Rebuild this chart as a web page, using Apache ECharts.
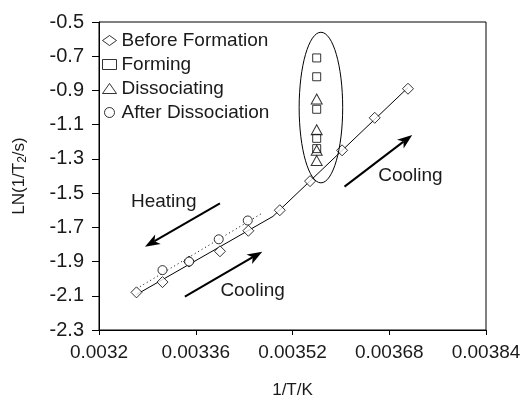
<!DOCTYPE html>
<html>
<head>
<meta charset="utf-8">
<script src="https://cdn.jsdelivr.net/npm/echarts@6/dist/echarts.min.js"></script>
<style>
html,body{margin:0;padding:0;background:#fff;}
#c{width:523px;height:397px;}
</style>
</head>
<body>
<div id="c"></div>
<script>
// ---- data ----
var seriesNames = ['Before Formation', 'Forming', 'Dissociating', 'After Dissociation'];
var beforeX = [0.003262, 0.003305, 0.003349, 0.003400, 0.003447, 0.003499, 0.003549, 0.003602, 0.003656, 0.003711];
var beforeY = [-2.08, -2.02, -1.90, -1.84, -1.72, -1.60, -1.43, -1.25, -1.06, -0.89];
var formingX = [0.00356, 0.00356, 0.00356, 0.00356, 0.00356];
var formingY = [-0.71, -0.82, -1.01, -1.18, -1.24];
var dissocX = [0.00356, 0.00356, 0.00356, 0.00356];
var dissocY = [-0.95, -1.13, -1.25, -1.31];
var afterX = [0.003305, 0.003349, 0.003398, 0.003446];
var afterY = [-1.95, -1.90, -1.77, -1.66];
var xTicks = [0.0032, 0.00336, 0.00352, 0.00368, 0.00384];
var yTicks = [-2.3, -2.1, -1.9, -1.7, -1.5, -1.3, -1.1, -0.9, -0.7, -0.5];
// segments of the "Before Formation" trend (index ranges) and range of dotted trend
var beforeSeg1 = [0, 5];
var beforeSeg2 = [5, 9];
var afterTrendRange = [0.003262, 0.00347];
// annotation text & arrows (data coordinates)
var annoTexts = [
  {text: 'Heating', x: 0.003307, y: -1.55},
  {text: 'Cooling', x: 0.003454, y: -2.07},
  {text: 'Cooling', x: 0.003715, y: -1.40}
];
var annoArrows = [
  {from: [0.003400, -1.560], to: [0.003276, -1.813]},
  {from: [0.003342, -2.105], to: [0.003470, -1.842]},
  {from: [0.003606, -1.462], to: [0.003718, -1.160]}
];
var ellipseAnno = {cx: 0.003567, cy: -1.0, rx: 0.000036, ry: 0.44};

function zip(xs, ys) { return xs.map(function (x, i) { return [x, ys[i]]; }); }
function fit(xs, ys) {
  var n = xs.length, mx = 0, my = 0, sxy = 0, sxx = 0;
  for (var i = 0; i < n; i++) { mx += xs[i]; my += ys[i]; }
  mx /= n; my /= n;
  for (i = 0; i < n; i++) { sxy += (xs[i] - mx) * (ys[i] - my); sxx += (xs[i] - mx) * (xs[i] - mx); }
  var b = sxy / sxx; return {a: my - b * mx, b: b};
}
var f1 = fit(beforeX.slice(beforeSeg1[0], beforeSeg1[1] + 1), beforeY.slice(beforeSeg1[0], beforeSeg1[1] + 1));
var f2 = fit(beforeX.slice(beforeSeg2[0], beforeSeg2[1] + 1), beforeY.slice(beforeSeg2[0], beforeSeg2[1] + 1));
var xi = (f2.a - f1.a) / (f1.b - f2.b);
var trendBefore = [
  [beforeX[0], f1.a + f1.b * beforeX[0]],
  [xi, f1.a + f1.b * xi],
  [beforeX[beforeX.length - 1], f2.a + f2.b * beforeX[beforeX.length - 1]]
];
var f3 = fit(afterX, afterY);
var trendAfter = afterTrendRange.map(function (x) { return [x, f3.a + f3.b * x]; });

var FONT = 'Liberation Sans, Arial, sans-serif';
var TXT = '#1a1a1a';
var chart = echarts.init(document.getElementById('c'), null, {renderer: 'canvas'});
var mk = {color: '#fff', borderColor: '#000', borderWidth: 1};
var option = {
  animation: false,
  backgroundColor: '#fff',
  grid: {left: 99, right: 37, top: 22, bottom: 67, containLabel: false, outerBoundsMode: 'none',
    show: true, borderColor: '#000', borderWidth: 1, backgroundColor: 'transparent'},
  legend: {
    orient: 'vertical', left: 102, top: 31, padding: 0, itemWidth: 14, itemHeight: 10, itemGap: 5,
    data: seriesNames,
    textStyle: {fontFamily: FONT, fontSize: 19, color: TXT, lineHeight: 19},
    itemStyle: {color: '#fff', borderColor: '#000', borderWidth: 1}
  },
  xAxis: {
    type: 'value', min: xTicks[0], max: xTicks[xTicks.length - 1], interval: 0.00016,
    name: '1/T/K', nameLocation: 'middle', nameGap: 52,
    nameTextStyle: {fontFamily: FONT, fontSize: 17, color: TXT},
    axisLine: {lineStyle: {color: '#000', width: 1}},
    axisTick: {show: true, length: 5, lineStyle: {color: '#000'}},
    splitLine: {show: false},
    axisLabel: {fontFamily: FONT, fontSize: 19, color: TXT, margin: 13,
      formatter: function (v) { return String(parseFloat(v.toPrecision(6))); }}
  },
  yAxis: {
    type: 'value', min: yTicks[0], max: yTicks[yTicks.length - 1], interval: 0.2,
    name: '{a|LN(1/T}{b|2}{a|/s)}', nameLocation: 'middle', nameGap: 70,
    nameTextStyle: {rich: {
      a: {fontFamily: FONT, fontSize: 17, color: TXT, lineHeight: 20},
      b: {fontFamily: FONT, fontSize: 12, color: TXT, lineHeight: 12, verticalAlign: 'bottom'}
    }},
    axisLine: {show: true, lineStyle: {color: '#000', width: 1}},
    axisTick: {show: true, length: 7, lineStyle: {color: '#000'}},
    splitLine: {show: false},
    axisLabel: {fontFamily: FONT, fontSize: 20, color: TXT, margin: 15,
      formatter: function (v) { return v.toFixed(1); }}
  },
  series: [
    {name: 'trendBefore', type: 'line', data: trendBefore, symbol: 'none', silent: true,
      lineStyle: {color: '#000', width: 1}, z: 1},
    {name: 'trendAfter', type: 'line', data: trendAfter, symbol: 'none', silent: true,
      lineStyle: {color: '#000', width: 1, type: [1, 3]}, z: 1},
    {name: seriesNames[0], type: 'scatter', symbol: 'diamond', symbolSize: [11, 11], data: zip(beforeX, beforeY), itemStyle: mk, z: 3},
    {name: seriesNames[1], type: 'scatter', symbol: 'rect', symbolSize: 8, data: zip(formingX, formingY), itemStyle: mk, z: 3},
    {name: seriesNames[2], type: 'scatter', symbol: 'triangle', symbolSize: [11, 10], data: zip(dissocX, dissocY), itemStyle: {color: 'transparent', borderColor: '#000', borderWidth: 1}, z: 4},
    {name: seriesNames[3], type: 'scatter', symbol: 'circle', symbolSize: 9, data: zip(afterX, afterY), itemStyle: mk, z: 3}
  ]
};
chart.setOption(option);

function px(p) { return chart.convertToPixel({gridIndex: 0}, p); }
var graphics = [];
annoTexts.forEach(function (t) {
  var p = px([t.x, t.y]);
  graphics.push({type: 'text', x: p[0], y: p[1], z: 10,
    style: {text: t.text, fontFamily: FONT, fontSize: 19, fill: TXT, align: 'center', verticalAlign: 'middle'}});
});
annoArrows.forEach(function (a) {
  var p0 = px(a.from), p1 = px(a.to);
  var dx = p1[0] - p0[0], dy = p1[1] - p0[1], L = Math.sqrt(dx * dx + dy * dy);
  var ux = dx / L, uy = dy / L, nx = -uy, ny = ux;
  var hl = 15, hw = 5.5, notch = 4;
  var base = [p1[0] - ux * hl, p1[1] - uy * hl];
  graphics.push({type: 'line', z: 10, shape: {x1: p0[0], y1: p0[1], x2: p1[0] - ux * (hl - notch), y2: p1[1] - uy * (hl - notch)},
    style: {stroke: '#000', lineWidth: 2}});
  graphics.push({type: 'polygon', z: 10, shape: {points: [
    p1, [base[0] + nx * hw, base[1] + ny * hw], [p1[0] - ux * (hl - notch), p1[1] - uy * (hl - notch)], [base[0] - nx * hw, base[1] - ny * hw]
  ]}, style: {fill: '#000'}});
});
var ec = px([ellipseAnno.cx, ellipseAnno.cy]);
var er = px([ellipseAnno.cx + ellipseAnno.rx, ellipseAnno.cy + ellipseAnno.ry]);
graphics.push({type: 'ellipse', z: 10, shape: {cx: ec[0], cy: ec[1], rx: Math.abs(er[0] - ec[0]), ry: Math.abs(er[1] - ec[1])},
  style: {fill: 'none', stroke: '#000', lineWidth: 1}});
chart.setOption({graphic: graphics});
</script>
</body>
</html>
